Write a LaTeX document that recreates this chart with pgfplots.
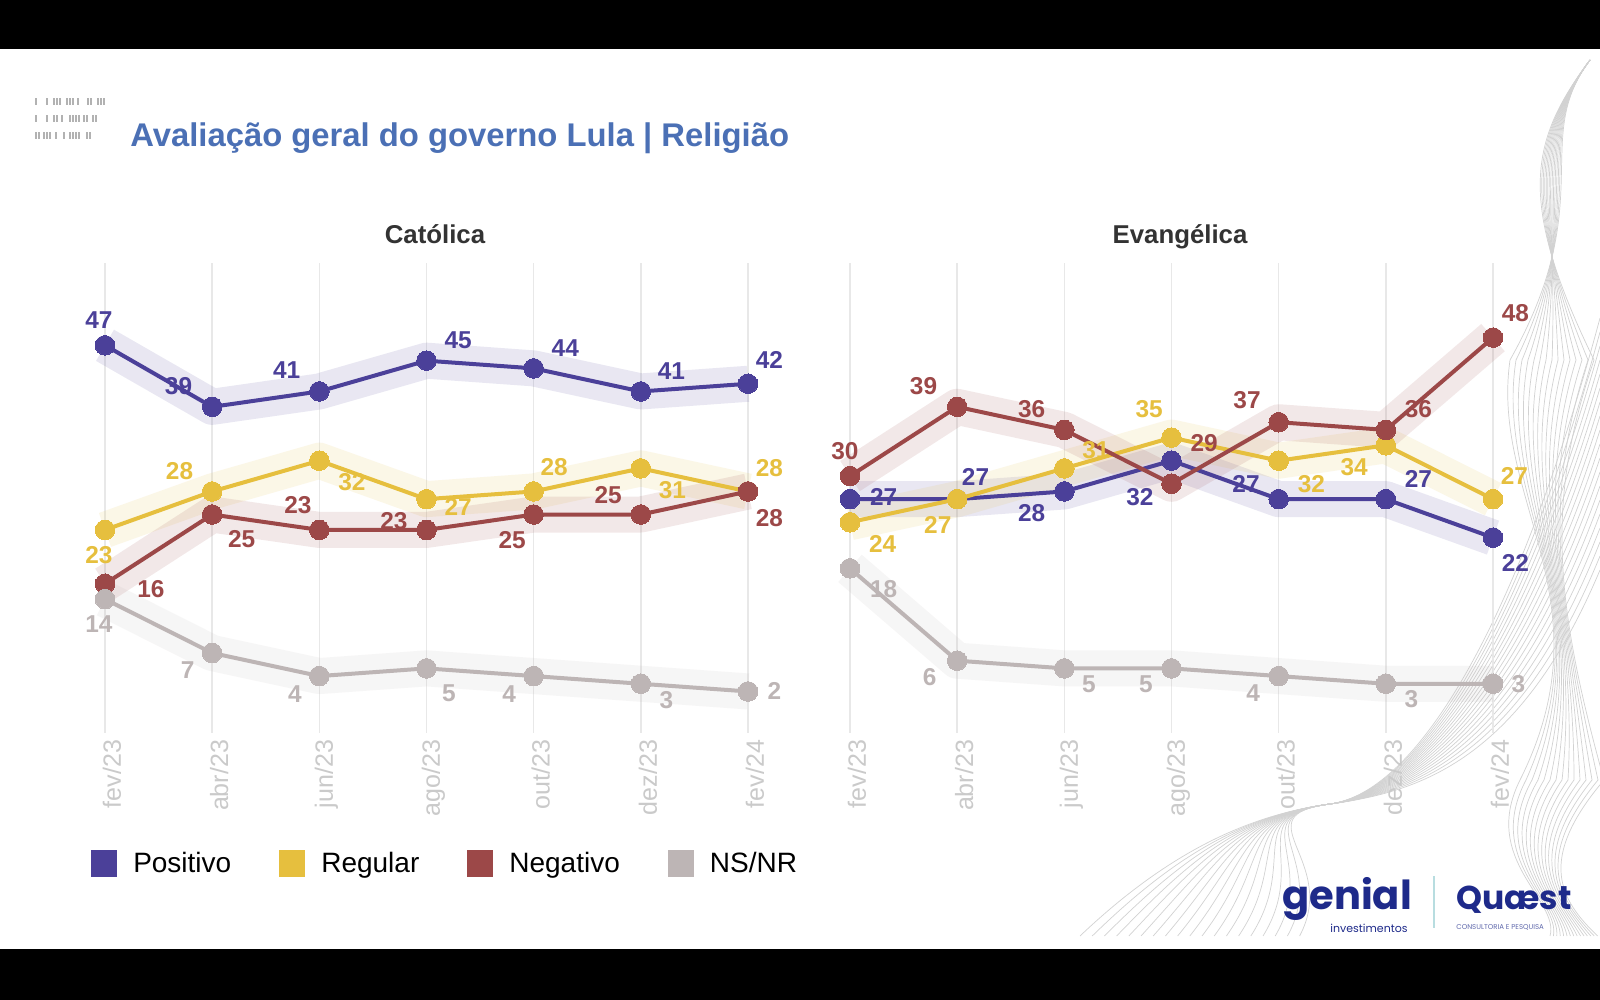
\documentclass[border=0pt]{standalone}
\usepackage{pgfplots}
\pgfplotsset{compat=1.18}
\usepackage{pgfplotstable}
\usepackage{fontspec}
\setmainfont{Liberation Sans}
\newfontfamily\pop{Poppins}

\definecolor{posc}{HTML}{4B4099}
\definecolor{regc}{HTML}{E6BF3E}
\definecolor{negc}{HTML}{9C4848}
\definecolor{nsc}{HTML}{BDB5B5}
\definecolor{titc}{HTML}{4B70B5}
\definecolor{subc}{HTML}{333333}
\definecolor{tickc}{HTML}{CACACA}
\definecolor{gridc}{HTML}{E8E8E8}
\definecolor{logoc}{HTML}{1E2A8A}
\definecolor{wavec}{HTML}{D2D2D2}
\definecolor{sepc}{HTML}{B8DDE0}

% x = month index, y = value, dx/dy = label offset in px (dy down)
\pgfplotstableread{
x y dx dy
0 47 -6 -25
1 39 -33 -20
2 41 -32 -21
3 45 31 -20
4 44 31 -20
5 41 30 -20
6 42 21 -23
}\catpos
\pgfplotstableread{
x y dx dy
0 23 -6 25
1 28 -32 -20
2 32 32 21
3 27 31 8
4 28 20 -24
5 31 31 21
6 28 21 -23
}\catreg
\pgfplotstableread{
x y dx dy
0 16 45 5
1 25 29 24
2 23 -21 -24
3 23 -32 -9
4 25 -21 25
5 25 -32 -19
6 28 21 26
}\catneg
\pgfplotstableread{
x y dx dy
0 14 -6 24
1 7 -24 17
2 4 -24 18
3 5 22 24
4 4 -24 18
5 3 25 16
6 2 26 0
}\catns
\pgfplotstableread{
x y dx dy
0 27 33 -2
1 27 18 -22
2 28 -32 21
3 32 -31 36
4 27 -32 -15
5 27 32 -20
6 22 22 25
}\evapos
\pgfplotstableread{
x y dx dy
0 24 32 21
1 27 -19 25
2 31 31 -18
3 35 -22 -28
4 32 32 23
5 34 -31 21
6 27 21 -23
}\evareg
\pgfplotstableread{
x y dx dy
0 30 -5 -24
1 39 -33 -20
2 36 -32 -20
3 29 32 -40
4 37 -31 -22
5 36 32 -20
6 48 22 -24
}\evaneg
\pgfplotstableread{
x y dx dy
0 18 33 20
1 6 -27 16
2 5 24 16
3 5 -25 16
4 4 -25 17
5 3 25 15
6 3 25 0
}\evans

\pgfplotsset{
  panel/.style={
    scale only axis, width=321.5pt, height=235pt,
    xmin=0, xmax=6, ymin=-3.4, ymax=57.7,
    clip=false, hide y axis,
    axis x line*=bottom, x axis line style={draw=none},
    xtick={0,...,6},
    xticklabels={fev/23,abr/23,jun/23,ago/23,out/23,dez/23,fev/24},
    major tick length=0pt,
    xmajorgrids, grid style={gridc, line width=0.8pt},
    xticklabel style={xshift=3.5pt, rotate=90, anchor=east, text=tickc,
      font=\fontsize{12.5}{14}\selectfont},
    anchor=south west,
  },
  band/.style={color=#1, opacity=0.12, line width=18pt, line join=round,
    no markers, forget plot},
  ser/.style={color=#1, line width=2pt, mark=*, mark size=4.9pt,
    mark options={solid, fill=#1, draw=#1, line width=0pt},
    nodes near coords, point meta=explicit symbolic,
    visualization depends on={\thisrow{dx}\as\dx},
    visualization depends on={\thisrow{dy}\as\dy},
    every node near coord/.append style={anchor=center, text=#1,
      font=\bfseries\fontsize{12.2}{14}\selectfont,
      xshift={0.51*(\dx)}, yshift={-0.51*(\dy)}}},
}

\begin{document}
\begin{tikzpicture}[x=1pt,y=1pt]
\fill[white] (0,0) rectangle (800,500);
\path[use as bounding box] (0,0) rectangle (800,500);

% decorative waves
\foreach \i in {0,...,18}{
  \draw[wavec, line width=0.35pt] (540+6.1*\i,32) .. controls (580+5*\i,70) and (620,92) .. (665,98)
     .. controls (710,104) and (760,120+4*\i) .. (800,215+7*\i);
}
\foreach \i in {0,...,14}{
  \draw[wavec, line width=0.35pt] (795,470) .. controls (765,430) and (800-3*\i,400) .. (755+3*\i,320)
     .. controls (745+2*\i,250) and (805-2*\i,200) .. (760+3*\i,110)
     .. controls (740+2*\i,70) and (780,50) .. (775+1.7*\i,32);
}

% barcode ornament
\foreach \xx in {18,23.5,27,28.5,30,33.5,35,36.5,39,44,45.5,49,50.5,52}{
  \draw[gray!60, line width=0.6pt] (\xx,447.5) -- (\xx,451);}
\foreach \xx in {18,23.5,27,28.5,31,35,36.5,38,39.5,42,43.5,46.5,48}{
  \draw[gray!60, line width=0.6pt] (\xx,439) -- (\xx,442.5);}
\foreach \xx in {18,19.5,22,23.5,25,28,32,35,36.5,38,39.5,43.5,45}{
  \draw[gray!60, line width=0.6pt] (\xx,430.5) -- (\xx,434);}

% title
\node[anchor=base west, text=titc, font=\bfseries\fontsize{16.4}{19}\selectfont, inner sep=0pt]
  at (65,426.5) {Avaliação geral do governo Lula | Religião};
\node[anchor=base, text=subc, font=\bfseries\fontsize{12.9}{15}\selectfont, inner sep=0pt] at (217.5,378) {Católica};
\node[anchor=base, text=subc, font=\bfseries\fontsize{12.9}{15}\selectfont, inner sep=0pt] at (590,378) {Evangélica};

% Católica
\begin{axis}[panel, at={(52.5pt,133.5pt)},
  legend image code/.code={\fill[#1] (0pt,-5.5pt) rectangle (11pt,6pt);},
  legend style={at={(axis description cs:-0.022,-0.279)}, anchor=west,
    draw=none, fill=none, legend columns=4, inner sep=0pt,
    font=\fontsize{14}{16}\selectfont,
    /tikz/every even column/.append style={column sep=22pt},
    /tikz/every odd column/.append style={column sep=6pt}},
]
\addplot[band=posc] table[x=x,y=y]{\catpos};
\addplot[band=regc] table[x=x,y=y]{\catreg};
\addplot[band=negc] table[x=x,y=y]{\catneg};
\addplot[band=nsc] table[x=x,y=y]{\catns};
\addplot[ser=posc] table[x=x,y=y,meta=y]{\catpos};
\addplot[ser=regc] table[x=x,y=y,meta=y]{\catreg};
\addplot[ser=negc] table[x=x,y=y,meta=y]{\catneg};
\addplot[ser=nsc] table[x=x,y=y,meta=y]{\catns};
\legend{Positivo,Regular,Negativo,NS/NR}
\end{axis}

% Evangélica
\begin{axis}[panel, at={(425pt,133.5pt)}]
\addplot[band=posc] table[x=x,y=y]{\evapos};
\addplot[band=regc] table[x=x,y=y]{\evareg};
\addplot[band=negc] table[x=x,y=y]{\evaneg};
\addplot[band=nsc] table[x=x,y=y]{\evans};
\addplot[ser=posc] table[x=x,y=y,meta=y]{\evapos};
\addplot[ser=regc] table[x=x,y=y,meta=y]{\evareg};
\addplot[ser=negc] table[x=x,y=y,meta=y]{\evaneg};
\addplot[ser=nsc] table[x=x,y=y,meta=y]{\evans};
\end{axis}

% logos
\node[anchor=base west, text=logoc, font=\pop\bfseries\fontsize{20}{22}\selectfont, inner sep=0pt] at (641,45) {genial};
\node[anchor=base east, text=logoc, font=\pop\fontsize{5.5}{6}\selectfont, inner sep=0pt] at (704,33.5) {investimentos};
\draw[sepc, line width=0.8pt] (717,36) -- (717,62);
\node[anchor=base west, text=logoc, font=\pop\bfseries\fontsize{16.5}{18}\selectfont, inner sep=0pt] at (728,45) {Quæst};
\node[anchor=base west, text=logoc!70, font=\pop\fontsize{3.5}{4}\selectfont, inner sep=0pt] at (728,35) {CONSULTORIA E PESQUISA};

% black bars
\fill[black] (0,0) rectangle (800,25.5);
\fill[black] (0,475.5) rectangle (800,500);
\end{tikzpicture}
\end{document}
